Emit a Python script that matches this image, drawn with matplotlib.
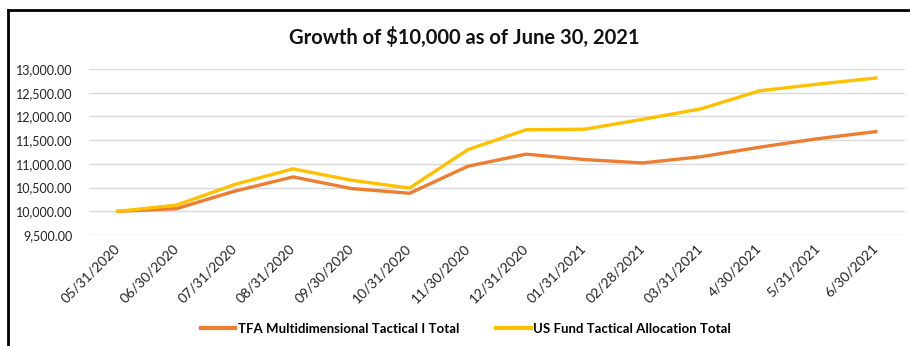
import matplotlib
matplotlib.use('Agg')
import matplotlib.pyplot as plt
from matplotlib.lines import Line2D
from matplotlib.ticker import FuncFormatter
import numpy as np

plt.rcParams['font.family'] = ['Lato', 'DejaVu Sans']

# monthly dates and growth of $10,000
dates = ['05/31/2020', '06/30/2020', '07/31/2020', '08/31/2020', '09/30/2020',
         '10/31/2020', '11/30/2020', '12/31/2020', '01/31/2021', '02/28/2021',
         '03/31/2021', '4/30/2021', '5/31/2021', '6/30/2021']
tfa = [10000, 10055, 10425, 10725, 10480, 10380, 10950, 11205,
       11090, 11020, 11150, 11350, 11530, 11680]
usf = [10000, 10130, 10565, 10895, 10655, 10490, 11300, 11720,
       11730, 11940, 12160, 12540, 12680, 12810]
labels = ['TFA Multidimensional Tactical I Total', 'US Fund Tactical Allocation Total']
colors = ['#ED7D31', '#FFC000']

fig = plt.figure(figsize=(9.10, 3.46), dpi=100)
ax = fig.add_axes([89/910, 1 - 235/346, 816/910, 166/346])

x = np.arange(len(dates))
ax.plot(x, tfa, color=colors[0], lw=2.4, label=labels[0], solid_joinstyle='round')
ax.plot(x, usf, color=colors[1], lw=2.4, label=labels[1], solid_joinstyle='round')

ax.set_xlim(-0.5, len(dates) - 0.5)
ax.set_ylim(9500, 13000)
ax.set_yticks(np.arange(9500, 13001, 500))
ax.yaxis.set_major_formatter(FuncFormatter(lambda v, p: f'{v:,.2f}'))
ax.set_xticks(x)
ax.set_xticklabels(dates, rotation=45, ha='right', va='center', rotation_mode='anchor')
ax.tick_params(axis='both', length=0, colors='#222222')
ax.tick_params(axis='x', pad=8, labelsize=10)
ax.tick_params(axis='y', pad=12, labelsize=9)
ax.grid(axis='y', color='#D9D9D9', lw=1)
ax.set_axisbelow(True)
for s in ax.spines.values():
    s.set_visible(False)

fig.text(464/910, 1 - 37/346, 'Growth of $10,000 as of June 30, 2021',
         ha='center', va='center', fontsize=14.5, fontweight='bold', color='#111111')

handles = [Line2D([], [], color=c, lw=3) for c in colors]
fig.legend(handles, labels, loc='center', bbox_to_anchor=(466/910, 1 - 329/346),
           ncol=2, frameon=False, handlelength=2.6, handletextpad=0.2,
           columnspacing=2.8, prop={'weight': 'bold', 'size': 9.5})

# black border on top and left like the screenshot
fig.add_artist(Line2D([8/910, 8/910], [0, 1 - 10/346], color='black', lw=2,
                      transform=fig.transFigure))
fig.add_artist(Line2D([8/910, 1], [1 - 10/346, 1 - 10/346], color='black', lw=2,
                      transform=fig.transFigure))

fig.savefig('out.png', dpi=100)
